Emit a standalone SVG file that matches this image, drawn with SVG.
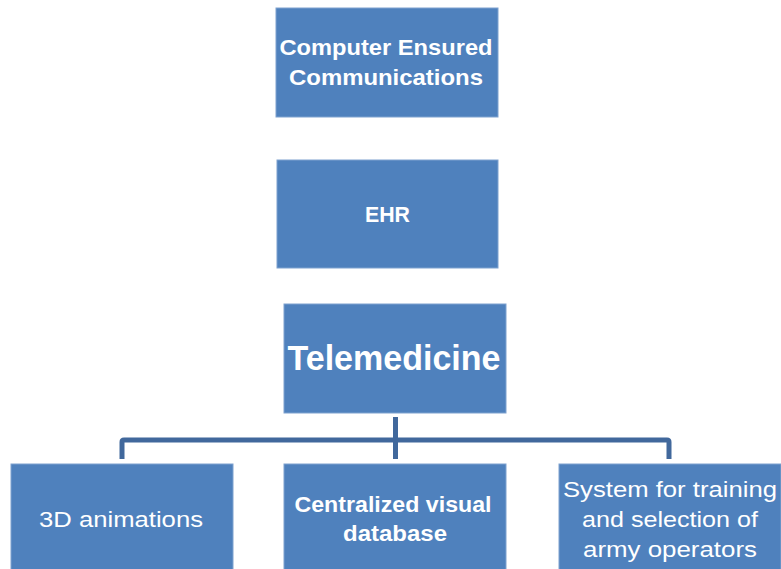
<svg xmlns="http://www.w3.org/2000/svg" width="781" height="569" viewBox="0 0 781 569">
<style>
.box{fill:#4F81BD;stroke:#7FA2CF;stroke-width:1}
.t{fill:#ffffff;font-family:"Liberation Sans",Arial,sans-serif;text-anchor:middle;font-size:22px}
.b{font-weight:bold}
.conn{fill:none;stroke:#41689C;stroke-width:5;stroke-linejoin:round}
</style>
<rect width="781" height="569" fill="#ffffff"/>
<g id="connectors">
<path class="conn" d="M122,459 V442 Q122,440 124,440 H667 Q669,440 669,442 V459"/>
<path class="conn" d="M395.5,417 V459"/>
</g>
<g id="node-computer">
<rect class="box" x="276" y="8" width="222" height="109"/>
<text class="t b" x="386" y="55" textLength="213" lengthAdjust="spacingAndGlyphs">Computer Ensured</text>
<text class="t b" x="386" y="85" textLength="194" lengthAdjust="spacingAndGlyphs">Communications</text>
</g>
<g id="node-ehr">
<rect class="box" x="277" y="160" width="221" height="108"/>
<text class="t b" x="387.5" y="222" textLength="45" lengthAdjust="spacingAndGlyphs">EHR</text>
</g>
<g id="node-telemedicine">
<rect class="box" x="284" y="304" width="222" height="109"/>
<text class="t b" x="394" y="370" style="font-size:35px" textLength="213" lengthAdjust="spacingAndGlyphs">Telemedicine</text>
</g>
<g id="node-3d">
<rect class="box" x="11" y="464" width="222" height="110"/>
<text class="t" x="121" y="527" textLength="164" lengthAdjust="spacingAndGlyphs">3D animations</text>
</g>
<g id="node-database">
<rect class="box" x="284" y="464" width="222" height="110"/>
<text class="t b" x="393" y="512" textLength="197" lengthAdjust="spacingAndGlyphs">Centralized visual</text>
<text class="t b" x="395" y="541" textLength="104" lengthAdjust="spacingAndGlyphs">database</text>
</g>
<g id="node-system">
<rect class="box" x="559" y="464" width="222" height="110"/>
<text class="t" x="670" y="497" textLength="214" lengthAdjust="spacingAndGlyphs">System for training</text>
<text class="t" x="670" y="527" textLength="176" lengthAdjust="spacingAndGlyphs">and selection of</text>
<text class="t" x="670" y="557" textLength="174" lengthAdjust="spacingAndGlyphs">army operators</text>
</g>
</svg>
